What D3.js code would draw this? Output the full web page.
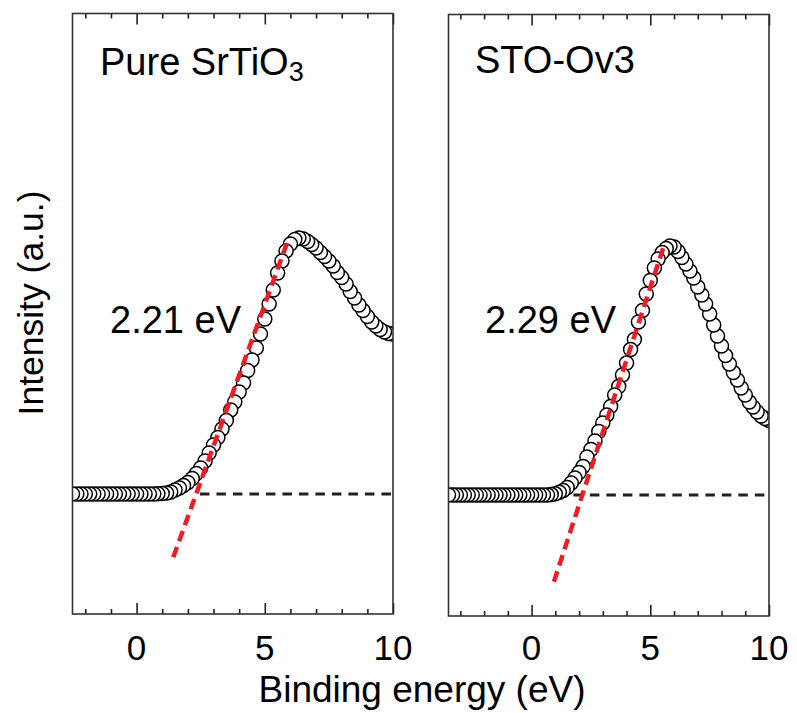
<!DOCTYPE html>
<html>
<head>
<meta charset="utf-8">
<script src="https://cdn.jsdelivr.net/npm/d3@7"></script>
<style>
  html, body { margin: 0; padding: 0; background: #fff; }
  svg { display: block; }
  text { font-family: "Liberation Sans", Arial, Helvetica, sans-serif; fill: #000; }
</style>
</head>
<body>
<svg id="chart" width="797" height="713"></svg>
<script>
// ---------- DATA ----------
// Pure SrTiO3 panel
const energyPure = [-2.5,-2.33,-2.17,-2,-1.83,-1.67,-1.5,-1.33,-1.17,-1,-0.83,-0.67,-0.5,-0.33,-0.17,0,
  0.17,0.33,0.5,0.67,0.83,1,1.17,1.33,1.5,1.67,1.83,2,2.17,2.33,2.5,2.67,2.83,3,3.17,3.33,3.5,3.67,3.83,4,
  4.17,4.33,4.5,4.67,4.83,5,5.17,5.33,5.5,5.67,5.83,6,6.17,6.33,6.5,6.67,6.83,7,7.17,7.33,7.5,7.67,7.83,8,
  8.17,8.33,8.5,8.67,8.83,9,9.17,9.33,9.5,9.67,9.83,10];
const intensityPure = [0,0,0,0,0,0,0,0,0,0,0,0,0,0,0,0,
  0,0,0,0,0.003,0.005,0.01,0.02,0.04,0.06,0.085,0.115,0.155,0.205,0.26,0.33,0.41,0.49,0.565,0.65,0.735,0.84,0.92,1.02,
  1.11,1.235,1.34,1.46,1.6,1.75,1.9,2.04,2.21,2.33,2.43,2.5,2.545,2.56,2.55,2.525,2.495,2.46,2.415,2.375,2.33,2.28,2.215,2.165,
  2.1,2.025,1.96,1.89,1.835,1.775,1.72,1.68,1.645,1.62,1.605,1.6];

// STO-Ov3 panel
const energyOv3 = [-3.5,-3.33,-3.17,-3,-2.83,-2.67,-2.5,-2.33,-2.17,-2,-1.83,-1.67,-1.5,-1.33,-1.17,-1,
  -0.83,-0.67,-0.5,-0.33,-0.17,0,0.17,0.33,0.5,0.67,0.83,1,1.17,1.33,1.5,1.67,1.83,2,2.17,2.33,2.5,2.67,2.83,3,
  3.17,3.33,3.5,3.67,3.83,4,4.17,4.33,4.5,4.67,4.83,5,5.17,5.33,5.5,5.67,5.83,6,6.17,6.33,6.5,6.67,6.83,7,
  7.17,7.33,7.5,7.67,7.83,8,8.17,8.33,8.5,8.67,8.83,9,9.17,9.33,9.5,9.67,9.83,10];
const intensityOv3 = [0,0,0,0,0,0,0,0,0,0,0,0,0,0,0,0,
  0,0,0,0,0,0,0,0,0,0,0.004,0.012,0.028,0.045,0.075,0.12,0.17,0.225,0.285,0.38,0.455,0.54,0.635,0.72,
  0.8,0.885,1.0,1.085,1.2,1.32,1.455,1.555,1.73,1.845,2.01,2.145,2.27,2.36,2.425,2.465,2.49,2.48,2.435,2.375,2.31,2.24,2.17,2.08,
  2.0,1.91,1.81,1.7,1.59,1.49,1.395,1.31,1.225,1.15,1.07,1.0,0.93,0.88,0.83,0.79,0.765,0.745];

// linear onset fits (red) and baselines (black dashed)
const fitPure = [[1.43, -0.633], [5.91, 2.54]];
const fitOv3 = [[0.94, -0.867], [5.54, 2.467]];
const basePure = [[2.47, 0], [10, 0]];
const baseOv3 = [[1.76, 0], [10, 0]];

const panelNames = ["Pure SrTiO", "STO-Ov3"];
const gapLabels = ["2.21 eV", "2.29 eV"];
const xDomains = [[-2.5, 10], [-3.5, 10]];
const majorTicks = [0, 5, 10];
const minorTicksPure = [-2,-1,1,2,3,4,6,7,8,9];
const minorTicksOv3 = [-3,-2,-1,1,2,3,4,6,7,8,9];
const xTitle = "Binding energy (eV)";
const yTitle = "Intensity (a.u.)";

// ---------- LAYOUT ----------
const svg = d3.select("#chart");
const panels = [
  { x0: 72.5, x1: 393, y0: 13.5, y1: 614, yDom: [-1.2, 4.805],
    energy: energyPure, inten: intensityPure, fit: fitPure, base: basePure, minor: minorTicksPure,
    name: panelNames[0], sub: "3", nameX: 100, nameY: 75, gap: gapLabels[0], gapX: 110, gapY: 333 },
  { x0: 448.5, x1: 769, y0: 14.5, y1: 616, yDom: [-1.21, 4.805],
    energy: energyOv3, inten: intensityOv3, fit: fitOv3, base: baseOv3, minor: minorTicksOv3,
    name: panelNames[1], sub: null, nameX: 475, nameY: 73, gap: gapLabels[1], gapX: 485, gapY: 333 }
];

panels.forEach((p, i) => {
  const x = d3.scaleLinear().domain(xDomains[i]).range([p.x0, p.x1]);
  const y = d3.scaleLinear().domain(p.yDom).range([p.y1, p.y0]);
  const g = svg.append("g");

  const clipId = "clip" + i;
  svg.append("clipPath").attr("id", clipId)
    .append("rect").attr("x", p.x0).attr("y", p.y0)
    .attr("width", p.x1 - p.x0).attr("height", p.y1 - p.y0);

  const plot = g.append("g").attr("clip-path", `url(#${clipId})`);
  const line = d3.line().x(d => x(d[0])).y(d => y(d[1]));

  // baseline
  plot.append("path").datum(p.base).attr("d", line)
    .attr("fill", "none").attr("stroke", "#231f20").attr("stroke-width", 3.2)
    .attr("stroke-dasharray", "9.5,7");

  // data circles (drawn right-to-left so earlier points sit on top)
  const pts = p.energy.map((e, k) => [e, p.inten[k]]).reverse();
  plot.selectAll("circle").data(pts).join("circle")
    .attr("cx", d => x(d[0])).attr("cy", d => y(d[1])).attr("r", 7)
    .attr("fill", "#fff").attr("stroke", "#000").attr("stroke-width", 1.5);

  // onset fit
  plot.append("path").datum(p.fit).attr("d", line)
    .attr("fill", "none").attr("stroke", "#ee1c25").attr("stroke-width", 4.5)
    .attr("stroke-dasharray", "11,6");

  // axes: bottom and top with inward ticks
  const bottomMajor = d3.axisBottom(x).tickValues(majorTicks).tickSize(-11).tickFormat("");
  const bottomMinor = d3.axisBottom(x).tickValues(p.minor).tickSize(-5).tickFormat("");
  const topMajor = d3.axisTop(x).tickValues(majorTicks).tickSize(-11).tickFormat("");
  const topMinor = d3.axisTop(x).tickValues(p.minor).tickSize(-5).tickFormat("");
  [[bottomMajor, p.y1], [bottomMinor, p.y1], [topMajor, p.y0], [topMinor, p.y0]].forEach(([ax, ty]) => {
    const a = g.append("g").attr("transform", `translate(0,${ty})`).call(ax);
    a.select(".domain").remove();
    a.selectAll(".tick line").attr("stroke", "#222").attr("stroke-width", 1.6);
  });

  // frame
  g.append("rect").attr("x", p.x0).attr("y", p.y0)
    .attr("width", p.x1 - p.x0).attr("height", p.y1 - p.y0)
    .attr("fill", "none").attr("stroke", "#333").attr("stroke-width", 1.6);

  // tick labels
  g.selectAll("text.tl").data(majorTicks).join("text").attr("class", "tl")
    .attr("x", d => x(d)).attr("y", 660).attr("text-anchor", "middle")
    .attr("font-size", 35).text(d => d);

  // panel name
  const t = g.append("text").attr("x", p.nameX).attr("y", p.nameY).attr("font-size", 38);
  t.append("tspan").text(p.name);
  if (p.sub) t.append("tspan").attr("font-size", 27).attr("dy", 6).text(p.sub);

  // gap label
  g.append("text").attr("x", p.gapX).attr("y", p.gapY).attr("font-size", 38).text(p.gap);
});

// axis titles
svg.append("text").attr("x", 422).attr("y", 702).attr("text-anchor", "middle")
  .attr("font-size", 37).text(xTitle);
svg.append("text").attr("transform", "translate(43,303) rotate(-90)")
  .attr("text-anchor", "middle").attr("font-size", 35.5).text(yTitle);
</script>
</body>
</html>
